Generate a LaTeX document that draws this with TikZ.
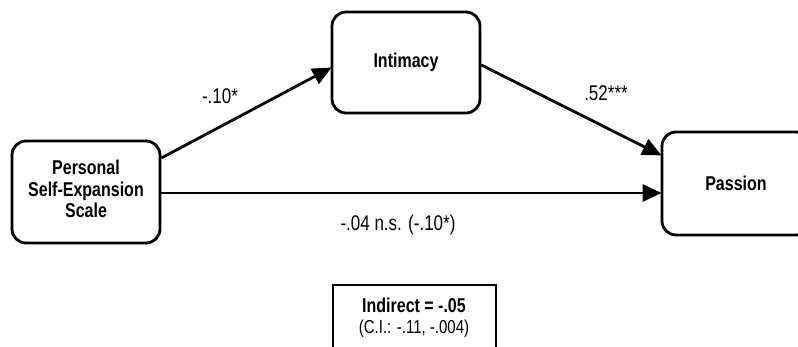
\documentclass[tikz,border=0pt]{standalone}
\usepackage{fontspec}
\setmainfont{Liberation Sans}
\usetikzlibrary{arrows.meta}
\newcommand{\vstretch}[1]{\scalebox{1}[1.25]{#1}}
\tikzset{
  varbox/.style={draw=black, line width=2.8pt, rounded corners=14pt, fill=white,
    minimum width=148pt, minimum height=102pt, align=center, inner sep=0pt,
    font=\fontsize{16}{17}\selectfont\bfseries},
  arr/.style={line width=2.8pt, -{Triangle[length=19pt,width=17pt]}, shorten >=-1pt},
  coef/.style={font=\fontsize{17}{20}\selectfont, inner sep=0pt},
  infobox/.style={draw=black, line width=1.6pt, minimum width=163pt, minimum height=80pt, inner sep=0pt}
}
\begin{document}
\begin{tikzpicture}[x=1pt,y=-1pt]
\useasboundingbox (0,0) rectangle (798,347);
\clip (0,0) rectangle (798,347);
\fill[white] (0,0) rectangle (798,347);
\node[varbox] (psx) at (86,192) {\vstretch{\begin{tabular}{@{}c@{}}Personal\\Self-Expansion\\Scale\end{tabular}}};
\node[varbox, minimum height=101pt] (int) at (406,62.5) {\vstretch{Intimacy}};
\node[varbox, minimum height=103pt] (pas) at (736,183.5) {\vstretch{Passion}};
\node[infobox, anchor=north west] (ind) at (332,284) {};
\node[font=\fontsize{16}{20}\selectfont\bfseries, inner sep=0pt, anchor=base] (indt) at (414,313) {\vstretch{Indirect = -.05}};
\node[font=\fontsize{15}{20}\selectfont, inner sep=0pt, anchor=base] (ci) at (414,334) {\vstretch{(C.I.: -.11, -.004)}};
\draw[arr] ([yshift=34pt]psx.east) -- ([yshift=-5.5pt]int.west);
\draw[arr] ([yshift=-2.5pt]int.east) -- ([yshift=28.5pt]pas.west);
\draw[arr] ([yshift=-1pt]psx.east) -- ([yshift=-1pt]psx.east -| pas.west);
\node[coef] (c1) at (220,96) {\vstretch{-.10*}};
\node[coef] (c2) at (606,93) {\vstretch{.52***}};
\node[coef] (c3) at (398,225) {\vstretch{-.04 n.s. (-.10*)}};
\end{tikzpicture}
\end{document}
